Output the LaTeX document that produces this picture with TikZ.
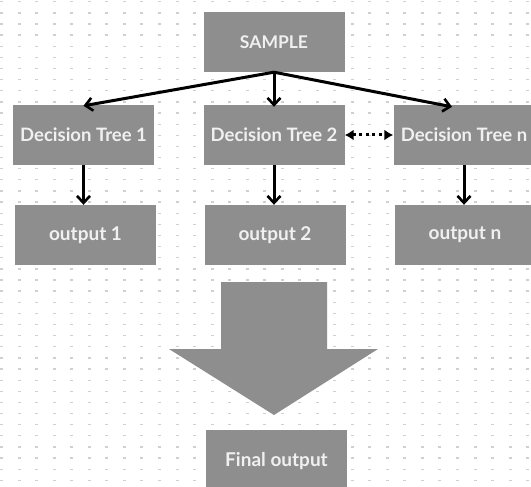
\documentclass[tikz,border=0pt]{standalone}
\usepackage{fontspec}
\setmainfont{Lato}
\usetikzlibrary{arrows.meta}

\definecolor{boxgray}{RGB}{142,142,142}
\definecolor{dotgray}{RGB}{208,208,208}

\begin{document}
\begin{tikzpicture}
   [x=1pt,y=-1pt,
   box/.style={fill=boxgray,minimum width=141pt,minimum height=60pt,
     inner sep=0pt,text=white!94!black,font=\fontsize{19}{21}\selectfont\bfseries},
   link/.style={line width=3pt,-{Straight Barb[length=7pt,width=13pt,line width=2.6pt]}}]

   \clip (0,0) rectangle (531,487);
   \fill[white] (0,0) rectangle (531,487);

   % dotted paper
   \foreach \i in {0,...,30}
     \foreach \j in {0,...,43}
       \fill[dotgray] (1.7+17.53*\i-1.5,1.7+11.13*\j-0.6) rectangle ++(3,1.3);

   \node[box,font=\fontsize{17.5}{20}\selectfont\bfseries] (sample) at (274,42) {SAMPLE};

   \node[box,font=\fontsize{18.5}{21}\selectfont\bfseries] (dt1) at (83.5,135) {Decision Tree 1};
   \node[box,font=\fontsize{18.5}{21}\selectfont\bfseries] (dt2) at (274,135)  {Decision Tree 2};
   \node[box,font=\fontsize{18.5}{21}\selectfont\bfseries] (dtn) at (464,135)  {Decision Tree n};

   \node[box] (out1) at (85.5,235) {output 1};
   \node[box] (out2) at (275,235)  {output 2};
   \node[box] (outn) at (465,235)  {output n};

   \node[box,minimum height=62pt] (final) at (276.5,461) {Final output};

   \draw[link] (sample.south) -- ([yshift=-1pt]dt1.north);
   \draw[link] (sample.south) -- ([yshift=-2pt]dt2.north);
   \draw[link] (sample.south) -- ([xshift=-12pt,yshift=-2pt]dtn.north);

   \draw[link] (dt1.south) -- (dt1.south |- out1.north);
   \draw[link] (dt2.south) -- (dt2.south |- out2.north);
   \draw[link] (dtn.south) -- (dtn.south |- outn.north);

   \draw[line width=3pt,dash pattern=on 3pt off 3.5pt,
     {Latex[length=9pt,width=11pt]}-{Latex[length=9pt,width=11pt]}]
     (dt2.east) -- (dtn.west);

   % big merge arrow
   \fill[boxgray] (221,282) -- (327,282) -- (327,349) -- (378,349)
     -- (274,415) -- (169,349) -- (221,349) -- cycle;
 \end{tikzpicture}
\end{document}
